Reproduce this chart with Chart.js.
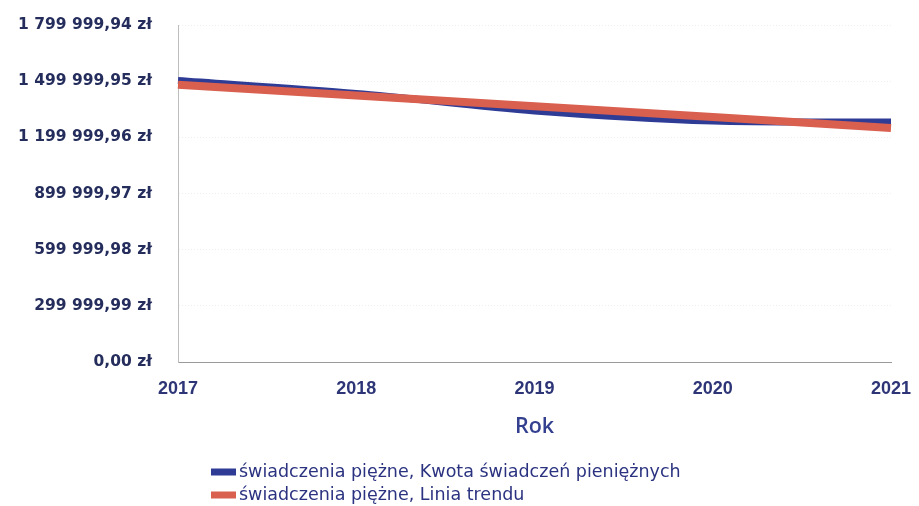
<!DOCTYPE html>
<html>
<head>
<meta charset="utf-8">
<script src="https://cdn.jsdelivr.net/npm/chart.js@4"></script>
<style>
  html, body { margin: 0; padding: 0; background: #ffffff; }
  #wrap { width: 919px; height: 506px; position: relative; }
</style>
</head>
<body>
<div id="wrap"><canvas id="kwoty"></canvas></div>
<script>
const lata = ["2017", "2018", "2019", "2020", "2021"];
const kwotaSwiadczen = [1503000, 1434000, 1341000, 1287000, 1282000];
const liniaTrendu = [1481000, 1423000, 1366000, 1308000, 1250000];
const yTickValues = [0, 299999.99, 599999.98, 899999.97, 1199999.96, 1499999.95, 1799999.94];
const yTickLabels = ["0,00 zł", "299 999,99 zł", "599 999,98 zł", "899 999,97 zł",
  "1 199 999,96 zł", "1 499 999,95 zł", "1 799 999,94 zł"];

const labelKwota = "świadczenia piężne, Kwota świadczeń pieniężnych";
const labelTrend = "świadczenia piężne, Linia trendu";

// legenda rysowana recznie - dwa wiersze wyrownane do lewej
const legendaPlugin = {
  id: "legenda",
  afterDraw(chart) {
    const c = chart.ctx;
    c.save();
    c.font = "17.5px 'DejaVu Sans'";
    c.textBaseline = "middle";
    c.textAlign = "left";
    chart.data.datasets.forEach((ds, i) => {
      const y = 472 + i * 23;
      c.fillStyle = ds.borderColor;
      c.fillRect(211, y - 3.5, 25, 7);
      c.fillStyle = "#2b3380";
      c.fillText(ds.label, 239, y);
    });
    c.restore();
  }
};

const ctx = document.getElementById("kwoty");

new Chart(ctx, {
  type: "line",
  data: {
    labels: lata,
    datasets: [
      {
        label: labelKwota,
        data: kwotaSwiadczen,
        borderColor: "#2e3c96",
        backgroundColor: "#2e3c96",
        borderWidth: 7,
        pointRadius: 0,
        tension: 0.3,
        order: 1
      },
      {
        label: labelTrend,
        data: liniaTrendu,
        borderColor: "#d95f4e",
        backgroundColor: "#d95f4e",
        borderWidth: 8,
        pointRadius: 0,
        tension: 0,
        order: 0
      }
    ]
  },
  options: {
    responsive: true,
    maintainAspectRatio: false,
    animation: false,
    layout: { padding: { top: 25, right: 28, bottom: 63, left: 0 } },
    plugins: {
      legend: { display: false },
      tooltip: { enabled: false }
    },
    scales: {
      x: {
        offset: false,
        grid: { display: false, tickLength: 16 },
        border: { display: true, color: "#9a9a9a", dash: [1, 2], width: 1 },
        ticks: {
          color: "#2d3577",
          font: { family: "'Liberation Sans'", size: 18, weight: "700" },
          padding: 0,
          maxRotation: 0
        },
        title: {
          display: true,
          text: "Rok",
          color: "#333f8f",
          font: { family: "'Open Sans'", size: 21.5, weight: "600" },
          padding: { top: 0, bottom: 3 }
        },
        afterFit(scale) { scale.height = 81; }
      },
      y: {
        min: 0,
        max: 1799999.94,
        grid: {
          color: (c) => (c.index === 0 ? "rgba(0,0,0,0)" : "#efefef"),
          tickColor: "rgba(0,0,0,0)",
          tickLength: 13,
          lineWidth: 1
        },
        border: { display: true, color: "#bdbdbd", dash: [1, 2] },
        afterBuildTicks(scale) {
          scale.ticks = yTickValues.map((v) => ({ value: v }));
        },
        ticks: {
          color: "#252d5c",
          font: { family: "'DejaVu Sans'", size: 15.5, weight: "700" },
          padding: 13,
          callback: (value, index) => yTickLabels[index]
        },
        afterFit(scale) { scale.width = 178; }
      }
    }
  },
  plugins: [legendaPlugin]
});
</script>
</body>
</html>
